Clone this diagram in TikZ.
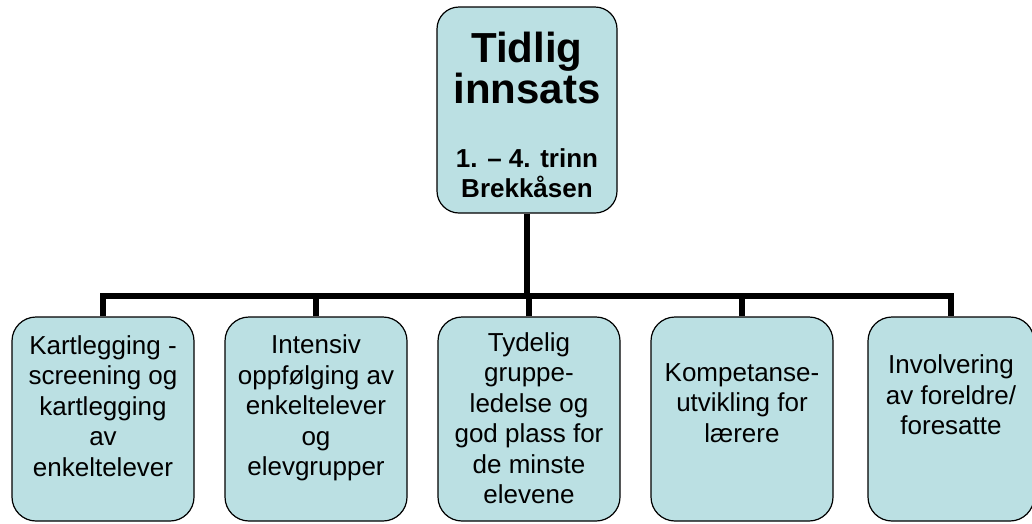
\documentclass[tikz,border=0pt]{standalone}
\usepackage{fontspec}
\setmainfont{Liberation Sans}
\usetikzlibrary{backgrounds}
\definecolor{boxfill}{HTML}{BBE0E3}

\tikzset{
  box/.style={draw, fill=boxfill, line width=1.2pt, rounded corners=24pt,
    minimum width=182pt, minimum height=204pt, inner sep=0pt},
  conn/.style={line width=6.5pt},
  txt/.style={align=center, inner sep=0pt, font=\fontsize{26}{30.5}\selectfont}
}

\begin{document}
\begin{tikzpicture}[x=1pt,y=1pt]
  \useasboundingbox (0,0) rectangle (1032,-523);

  % top box
  \node[box, minimum width=180pt, minimum height=206pt, rounded corners=22pt] (top) at (527,-110) {};
  \node[txt, font=\fontsize{42}{37}\selectfont\bfseries] (ttl) at (527,-68) {Tidlig\\innsats};
  \node[txt, font=\fontsize{26}{30}\selectfont\bfseries] (sub) at (527,-173) {1. – 4. trinn\\Brekkåsen};

  % the five boxes below
  \node[box] (b1) at (103,-419) {};
  \node[box] (b2) at (316,-419) {};
  \node[box] (b3) at (529,-419) {};
  \node[box] (b4) at (742,-419) {};
  \node[box, minimum width=166pt] (b5) at (951,-419) {};

  \node[txt] (t1) at (103,-406) {Kartlegging -\\screening og\\kartlegging\\av\\enkeltelever};
  \node[txt] (t2) at (316,-408) {Intensiv\\oppfølging av\\enkeltelever\\og\\elevgrupper};
  \node[txt] (t3) at (529,-418) {Tydelig\\gruppe-\\ledelse og\\god plass for\\de minste\\elevene};
  \node[txt] (t4) at (742,-403) {Kompetanse-\\utvikling for\\lærere};
  \node[txt] (t5) at (951,-395) {Involvering\\av foreldre/\\foresatte};

  % connectors
  \coordinate (bar) at (527,-296);
  \begin{scope}[on background layer]
    \draw[conn] (top.south) -- (bar);
    \draw[conn] (b1.north) |- (bar) -| (b5.north);
    \foreach \b in {b2,b3,b4}
      \draw[conn] (\b.north) -- (\b.north |- bar);
  \end{scope}
\end{tikzpicture}
\end{document}
